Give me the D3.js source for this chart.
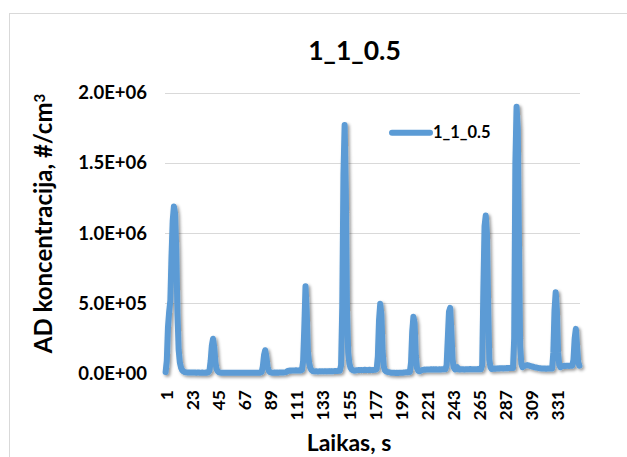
<!DOCTYPE html>
<html>
<head>
<meta charset="utf-8">
<script src="https://cdn.jsdelivr.net/npm/d3@7"></script>
<style>
  html, body { margin: 0; padding: 0; background: #fff; }
  svg { display: block; }
  text { font-family: "Lato", "Open Sans", sans-serif; font-weight: 700; fill: #000; }
</style>
</head>
<body>
<svg id="chart" width="627" height="457"></svg>
<script>
// Particle concentration over time, one reading per second
const seriesName = "1_1_0.5";
const chartTitle = "1_1_0.5";
const xTitle = "Laikas, s";
const yTitle = "AD koncentracija, #/cm";

const concentration = [
  10000, 90000, 330000, 440000, 520000, 840000, 1090000, 1190000, 1140000, 880000,
  430000, 170000, 80000, 42000, 24000, 15000, 11000, 9000, 8000, 8000,
  8000, 7000, 7000, 8000, 7000, 7000, 6000, 7000, 7000, 6000,
  6000, 7000, 6000, 6000, 7000, 6000, 8000, 20000, 90000, 200000,
  247000, 190000, 80000, 30000, 15000, 9000, 7000, 6000, 6000, 5000,
  5000, 6000, 5000, 5000, 6000, 5000, 5000, 6000, 5000, 5000,
  6000, 5000, 5000, 6000, 6000, 5000, 5000, 6000, 5000, 6000,
  5000, 5000, 6000, 5000, 6000, 6000, 5000, 6000, 5000, 6000,
  6000, 10000, 50000, 130000, 166000, 120000, 50000, 20000, 10000, 7000,
  6000, 6000, 7000, 6000, 7000, 6000, 7000, 8000, 7000, 8000,
  8000, 9000, 12000, 18000, 20000, 21000, 20000, 22000, 21000, 22000,
  23000, 22000, 21000, 23000, 22000, 25000, 90000, 330000, 622000, 450000,
  160000, 80000, 40000, 25000, 18000, 16000, 15000, 16000, 15000, 15000,
  16000, 15000, 16000, 15000, 16000, 16000, 15000, 16000, 17000, 16000,
  17000, 16000, 17000, 18000, 17000, 18000, 19000, 20000, 60000, 480000,
  1420000, 1770000, 1300000, 450000, 150000, 70000, 40000, 28000, 22000, 20000,
  22000, 23000, 24000, 25000, 24000, 25000, 24000, 25000, 26000, 25000,
  24000, 25000, 26000, 25000, 24000, 25000, 26000, 27000, 30000, 120000,
  380000, 496000, 420000, 160000, 50000, 22000, 15000, 12000, 10000, 8000,
  6000, 5000, 6000, 5000, 4000, 5000, 4000, 5000, 6000, 5000,
  6000, 7000, 8000, 9000, 8000, 9000, 10000, 80000, 300000, 404000,
  360000, 130000, 40000, 20000, 16000, 20000, 24000, 26000, 28000, 27000,
  28000, 29000, 28000, 29000, 30000, 29000, 30000, 29000, 30000, 28000,
  29000, 30000, 29000, 30000, 31000, 30000, 30000, 60000, 250000, 440000,
  468000, 300000, 100000, 45000, 30000, 40000, 45000, 30000, 29000, 30000,
  31000, 30000, 29000, 30000, 31000, 30000, 31000, 32000, 31000, 30000,
  31000, 30000, 31000, 30000, 32000, 31000, 30000, 60000, 600000, 1050000,
  1125000, 1000000, 500000, 100000, 45000, 32000, 33000, 35000, 34000, 36000,
  35000, 37000, 36000, 38000, 37000, 36000, 38000, 37000, 39000, 38000,
  40000, 39000, 40000, 40000, 250000, 1500000, 1900000, 1750000, 950000, 200000,
  70000, 45000, 50000, 55000, 58000, 60000, 58000, 55000, 52000, 50000,
  48000, 45000, 43000, 42000, 40000, 38000, 37000, 36000, 35000, 36000,
  35000, 34000, 35000, 36000, 35000, 36000, 35000, 150000, 450000, 579000,
  450000, 150000, 60000, 45000, 50000, 52000, 55000, 53000, 55000, 56000,
  54000, 55000, 56000, 55000, 100000, 250000, 318000, 200000, 80000, 55000
];
const seconds = concentration.map((_, i) => i + 1);
const xTickLabels = [1, 23, 45, 67, 89, 111, 133, 155, 177, 199, 221, 243, 265, 287, 309, 331];
const yTickValues = [0, 500000, 1000000, 1500000, 2000000];

const svg = d3.select("#chart");
const plot = { left: 165, right: 580, top: 92.7, bottom: 373.5 };

// Outer chart frame
svg.append("rect")
  .attr("x", 9.5).attr("y", 13.5)
  .attr("width", 700).attr("height", 500)
  .attr("fill", "#fff").attr("stroke", "#D9D9D9").attr("stroke-width", 1);

const x = d3.scaleBand().domain(seconds).range([plot.left, plot.right]).paddingInner(0).paddingOuter(0);
const xc = d => x(d) + x.bandwidth() / 2;
const y = d3.scaleLinear().domain([0, 2000000]).range([plot.bottom, plot.top]);

// Excel-like scientific tick format, e.g. 1.5E+06
const sci = v => {
  if (v === 0) return "0.0E+00";
  const e = Math.floor(Math.log10(v));
  const m = v / Math.pow(10, e);
  return m.toFixed(1) + "E+" + String(e).padStart(2, "0");
};

// Horizontal gridlines
svg.append("g")
  .selectAll("line")
  .data(yTickValues.filter(v => v > 0))
  .join("line")
  .attr("x1", plot.left).attr("x2", plot.right)
  .attr("y1", d => Math.round(y(d)) + 0.5).attr("y2", d => Math.round(y(d)) + 0.5)
  .attr("stroke", "#D9D9D9").attr("stroke-width", 1.2);

// Y axis
const yAxis = svg.append("g")
  .attr("transform", `translate(${plot.left},0)`)
  .call(d3.axisLeft(y).tickValues(yTickValues).tickFormat(sci).tickSize(0).tickPadding(18));
yAxis.select(".domain").remove();
yAxis.selectAll("text")
  .style("font-family", "Lato, sans-serif").style("font-weight", 700)
  .style("font-size", "18.5px").attr("fill", "#000");

// X axis with rotated category labels
const xAxis = svg.append("g")
  .attr("transform", `translate(0,${plot.bottom})`)
  .call(d3.axisBottom(x).tickValues(xTickLabels).tickSize(0));
xAxis.select(".domain").remove();
xAxis.selectAll("text")
  .style("font-family", "Lato, sans-serif").style("font-weight", 700)
  .style("font-size", "17.5px").attr("fill", "#000")
  .attr("transform", "rotate(-90)")
  .attr("text-anchor", "end")
  .attr("x", -16.5).attr("y", 1).attr("dy", "0.36em");

// Soft drop shadow under the series line
const defs = svg.append("defs");
const f = defs.append("filter").attr("id", "shadow")
  .attr("x", "-5%").attr("y", "-5%").attr("width", "115%").attr("height", "115%");
f.append("feDropShadow").attr("dx", 1.8).attr("dy", 1.8).attr("stdDeviation", 1.5)
  .attr("flood-color", "#000").attr("flood-opacity", 0.4);

const line = d3.line().x((d, i) => xc(seconds[i])).y(d => y(d));
svg.append("path")
  .datum(concentration)
  .attr("d", line)
  .attr("fill", "none")
  .attr("stroke", "#5B9BD5")
  .attr("stroke-width", 6)
  .attr("stroke-linejoin", "round")
  .attr("stroke-linecap", "round")
  .attr("filter", "url(#shadow)");

// Title
svg.append("text")
  .attr("x", 354.5).attr("y", 60)
  .attr("text-anchor", "middle")
  .style("font-size", "26.5px")
  .text(chartTitle);

// Legend
const lg = svg.append("g");
lg.append("line")
  .attr("x1", 392).attr("x2", 430).attr("y1", 132.7).attr("y2", 132.7)
  .attr("stroke", "#5B9BD5").attr("stroke-width", 6).attr("stroke-linecap", "round");
lg.append("text")
  .attr("x", 433).attr("y", 137.5)
  .style("font-size", "16.5px")
  .text(seriesName);

// Axis titles
svg.append("text")
  .attr("x", 349).attr("y", 451)
  .attr("text-anchor", "middle")
  .style("font-size", "23px")
  .text(xTitle);

const yt = svg.append("text")
  .attr("transform", "translate(52,223.5) rotate(-90)")
  .attr("text-anchor", "middle")
  .style("font-size", "24px")
  .text(yTitle);
yt.append("tspan").attr("dy", "-0.45em").style("font-size", "15px").text("3");
</script>
</body>
</html>
